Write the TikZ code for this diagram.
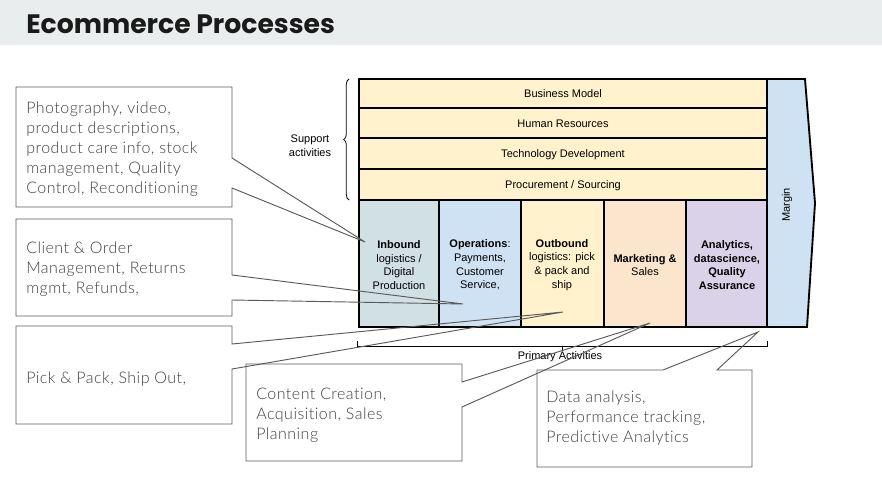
\documentclass[tikz,border=0pt]{standalone}
\usepackage{fontspec}
\setmainfont{Liberation Sans}
\newfontfamily\titlefont{Poppins}
\newfontfamily\callfont{Lato Light}[LetterSpace=3,Ligatures={NoCommon,NoRare}]
\usetikzlibrary{decorations.pathreplacing}
\definecolor{yel}{HTML}{FFF2CC}
\definecolor{inb}{HTML}{D0E0E3}
\definecolor{ops}{HTML}{CFE2F3}
\definecolor{mkt}{HTML}{FCE5CD}
\definecolor{ana}{HTML}{D9D2E9}
\definecolor{titlebg}{HTML}{E9EDED}
\definecolor{titletext}{HTML}{1A1A1A}
\definecolor{cgray}{HTML}{5A5A5A}
\definecolor{ctext}{HTML}{404040}
\begin{document}
\begin{tikzpicture}[x=0.75pt,y=-0.75pt,
  blk/.style={draw=black,line width=1.4pt},
  lbl/.style={font=\fontsize{8.25}{10.3}\selectfont,align=center,inner sep=0pt},
  callline/.style={draw=cgray,line width=0.7pt,line join=miter},
  calltext/.style={font=\callfont\fontsize{12}{15}\selectfont,text=ctext,align=left,inner sep=0pt,anchor=north west},
  thinline/.style={draw=black,line width=0.6pt}]
\useasboundingbox (0,0) rectangle (882,492);
% title band
\fill[titlebg] (0,0) rectangle (882,45);
\node[anchor=base west,inner sep=0pt,font=\titlefont\bfseries\fontsize{20}{24}\selectfont,text=titletext] (title) at (26,34) {Ecommerce Processes};
% support rows
\draw[blk,fill=yel] (359,79) rectangle (767,108);
\draw[blk,fill=yel] (359,108) rectangle (767,138);
\draw[blk,fill=yel] (359,138) rectangle (767,169);
\draw[blk,fill=yel] (359,169) rectangle (767,200);
\node[lbl] (bm) at (563,94) {Business Model};
\node[lbl] (hr) at (563,124) {Human Resources};
\node[lbl] (td) at (563,155) {Technology Development};
\node[lbl] (ps) at (563,186) {Procurement / Sourcing};
% primary columns
\draw[blk,fill=inb] (359,200) rectangle (439,327);
\draw[blk,fill=ops] (439,200) rectangle (521,327);
\draw[blk,fill=yel] (521,200) rectangle (604,327);
\draw[blk,fill=mkt] (604,200) rectangle (686,327);
\draw[blk,fill=ana] (686,200) rectangle (767,327);
\node[lbl] (inbound) at (399,265) {\textbf{Inbound}\\logistics /\\Digital\\Production};
\node[lbl] (operations) at (480,265) {\textbf{Operations}:\\Payments,\\Customer\\Service,};
\node[lbl] (outbound) at (562,265) {\textbf{Outbound}\\logistics: pick\\\& pack and\\ship};
\node[lbl] (marketing) at (645,265) {\textbf{Marketing \&}\\Sales};
\node[lbl] (analytics) at (727,265) {\textbf{Analytics,}\\\textbf{datascience,}\\\textbf{Quality}\\\textbf{Assurance}};
% margin
\draw[blk,fill=ops,line join=miter] (767,79) -- (805,79) -- (815,203) -- (807,327) -- (767,327) -- cycle;
\node[lbl,rotate=90] (margin) at (787,205) {Margin};
% support brace
\draw[thinline,decorate,decoration={brace,amplitude=4pt}] (349,200) -- (349,79);
\node[lbl] (supp) at (310,146) {Support\\activities};
% primary bracket
\draw[thinline] (357,341) -- (357,346) -- (767,346) -- (767,341);
\draw[thinline] (562,346) -- (562,351);
\node[lbl] (prim) at (560,357) {Primary Activities};
% callout A
\coordinate (pA) at (365,242);
\draw[callline] (232,158) -- (232,87) -- (16,87) -- (16,207) -- (232,207) -- (232,188) -- (pA) -- cycle;
\node[calltext] (tA) at (26,102) {Photography, video,\\product descriptions,\\product care info, stock\\management, Quality\\Control, Reconditioning};
% callout B
\coordinate (pB) at (463,304);
\draw[callline] (232,275) -- (232,219) -- (16,219) -- (16,316) -- (232,316) -- (232,300) -- (pB) -- cycle;
\node[calltext] (tB) at (26,242) {Client \& Order\\Management, Returns\\mgmt, Refunds,};
% callout C
\coordinate (pC) at (563,312);
\draw[callline] (232,344) -- (232,326) -- (16,326) -- (16,424) -- (232,424) -- (232,369) -- (pC) -- cycle;
\node[calltext] (tC) at (26,372) {Pick \& Pack, Ship Out,};
% callout D
\coordinate (pD) at (650,323);
\draw[callline] (462,382) -- (462,364) -- (246,364) -- (246,461) -- (462,461) -- (462,407) -- (pD) -- cycle;
\node[calltext] (tD) at (256,388) {Content Creation,\\Acquisition, Sales\\Planning};
% callout E
\coordinate (pE) at (758,332);
\draw[callline] (663,370) -- (537,370) -- (537,467) -- (752,467) -- (752,370) -- (717,370) -- (pE) -- cycle;
\node[calltext] (tE) at (546,391) {Data analysis,\\Performance tracking,\\Predictive Analytics};
\end{tikzpicture}
\end{document}
